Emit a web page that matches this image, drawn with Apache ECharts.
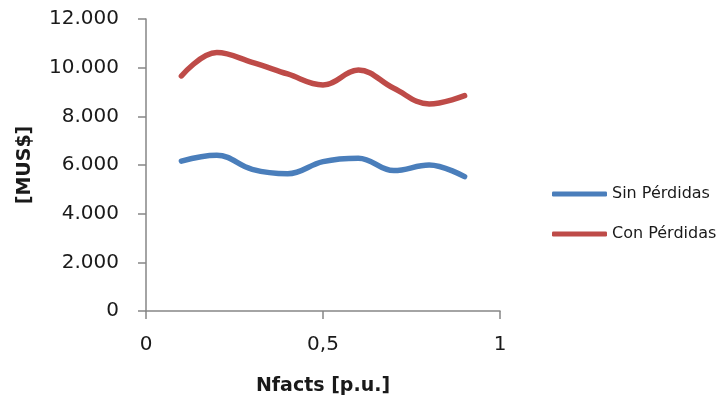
<!DOCTYPE html>
<html>
<head>
<meta charset="utf-8">
<script src="https://cdn.jsdelivr.net/npm/echarts@6/dist/echarts.min.js"></script>
<style>
  html, body { margin: 0; padding: 0; background: #fff; }
  #chart { width: 720px; height: 401px; }
</style>
</head>
<body>
<div id="chart"></div>
<script>
// valores
const nfacts = [0.1, 0.2, 0.3, 0.4, 0.5, 0.6, 0.7, 0.8, 0.9]
const sinPerdidas = [6160, 6400, 5820, 5640, 6140, 6280, 5770, 6000, 5520]
const conPerdidas = [9660, 10620, 10220, 9740, 9290, 9900, 9150, 8510, 8850]
const seriesNames = ['Sin Pérdidas', 'Con Pérdidas']

const font = 'DejaVu Sans'
const axisColor = '#868686'

const fmtMiles = v => String(v).replace(/\B(?=(\d{3})+(?!\d))/g, '.')
const fmtDecimal = v => String(v).replace('.', ',')

const myChart = echarts.init(document.getElementById('chart'))

const option = {
  animation: false,
  grid: { left: 146, right: 220, top: 19, bottom: 90 },
  legend: {
    orient: 'vertical',
    left: 547,
    top: 181,
    itemWidth: 55,
    itemHeight: 5,
    itemGap: 24,
    icon: 'roundRect',
    textStyle: { fontFamily: font, fontSize: 16, color: '#1a1a1a' },
    data: seriesNames
  },
  xAxis: {
    type: 'value',
    min: 0,
    max: 1,
    interval: 0.5,
    name: 'Nfacts [p.u.]',
    nameLocation: 'middle',
    nameGap: 66,
    nameTextStyle: { fontFamily: font, fontSize: 19, fontWeight: 'bold', color: '#1a1a1a' },
    axisLine: { show: true, lineStyle: { color: axisColor, width: 1.5 } },
    axisTick: { show: true, length: 8, lineStyle: { color: axisColor, width: 1.5 } },
    axisLabel: { margin: 24, fontFamily: font, fontSize: 20, color: '#1a1a1a', formatter: fmtDecimal },
    splitLine: { show: false }
  },
  yAxis: {
    type: 'value',
    min: 0,
    max: 12000,
    interval: 2000,
    name: '[MUS$]',
    nameLocation: 'middle',
    nameGap: 111,
    nameTextStyle: { fontFamily: font, fontSize: 19, fontWeight: 'bold', color: '#1a1a1a' },
    axisLine: { show: true, lineStyle: { color: axisColor, width: 1.5 } },
    axisTick: { show: true, length: 8, lineStyle: { color: axisColor, width: 1.5 } },
    axisLabel: { margin: 27, fontFamily: font, fontSize: 20, color: '#1a1a1a', formatter: fmtMiles },
    splitLine: { show: false }
  },
  series: [
    {
      name: seriesNames[0],
      type: 'line',
      data: nfacts.map((x, i) => [x, sinPerdidas[i]]),
      smooth: 0.4,
      showSymbol: false,
      color: '#4A7EBB',
      lineStyle: { width: 5.5, cap: 'round', join: 'round' }
    },
    {
      name: seriesNames[1],
      type: 'line',
      data: nfacts.map((x, i) => [x, conPerdidas[i]]),
      smooth: 0.4,
      showSymbol: false,
      color: '#BE4B48',
      lineStyle: { width: 5.5, cap: 'round', join: 'round' }
    }
  ]
}

myChart.setOption(option)
</script>
</body>
</html>
